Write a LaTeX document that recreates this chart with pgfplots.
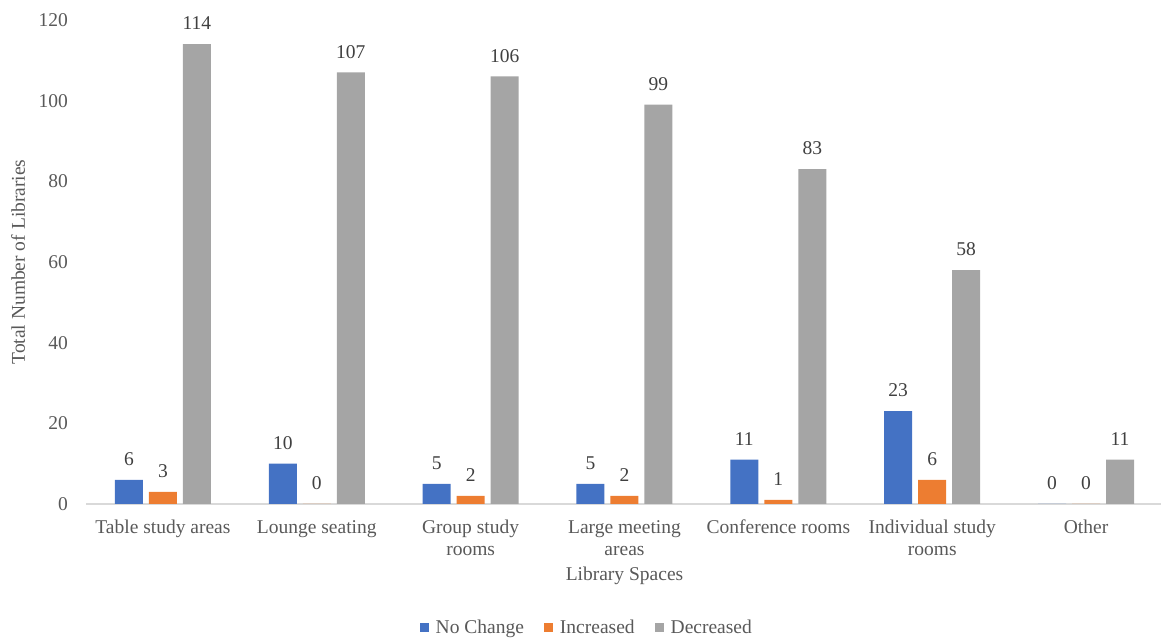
\documentclass[border=0pt]{standalone}
\usepackage{fontspec}
\setmainfont{Liberation Serif}
\usepackage{pgfplots}
\usepackage{pgfplotstable}
\pgfplotsset{compat=1.18}

\definecolor{cBlue}{HTML}{4472C4}
\definecolor{cOrange}{HTML}{ED7D31}
\definecolor{cGray}{HTML}{A5A5A5}
\definecolor{tickText}{HTML}{595959}
\definecolor{valText}{HTML}{404040}
\definecolor{baseLine}{HTML}{D9D9D9}

\newcommand\chartfont{\fontsize{19.5}{22}\selectfont}

% Changes in library spaces, one row per space type
\pgfplotstableread{
idx nochange increased decreased
0   6        3         114
1   10       0         107
2   5        2         106
3   5        2         99
4   11       1         83
5   23       6         58
6   0        0         11
}\spacestable

\begin{document}
\begin{tikzpicture}[x=1pt,y=1pt]
\useasboundingbox (0,0) rectangle (1161,639);
\begin{axis}[
  at={(86pt,135pt)}, anchor=south west,
  scale only axis, width=1077pt, height=484pt,
  ybar=6pt, bar width=28pt,
  xmin=-0.5, xmax=6.5, ymin=0, ymax=120,
  xtick=data,
  xticklabels={Table study areas, Lounge seating, {Group study\\rooms}, {Large meeting\\areas}, Conference rooms, {Individual study\\rooms}, Other},
  ytick={0,20,...,120},
  major tick length=0pt,
  axis x line*=bottom, axis y line*=left,
  x axis line style={draw=baseLine, line width=1.5pt},
  y axis line style={draw=none},
  /pgf/number format/assume math mode=true,
  tick label style={font=\chartfont, text=tickText},
  xticklabel style={align=center, inner sep=0pt, anchor=north, yshift=-16pt},
  yticklabel style={inner sep=0pt, anchor=east, xshift=-18pt},
  xlabel={Library Spaces},
  ylabel={Total Number of Libraries},
  every axis x label/.style={at={(axis description cs:0.5,-0.149)}, anchor=center, font=\chartfont, text=tickText},
  every axis y label/.style={at={(axis description cs:-0.0631,0.5)}, rotate=90, anchor=center, font=\chartfont, text=tickText},
  nodes near coords,
  every node near coord/.append style={font=\chartfont, text=valText, anchor=south, inner sep=0pt, yshift=14pt},
  legend style={at={(axis description cs:0.465,-0.256)}, anchor=center, draw=none, fill=none,
    legend columns=-1, font=\chartfont, text=tickText,
    nodes={inner sep=2pt},
    /tikz/every odd column/.append style={column sep=5pt},
    /tikz/every even column/.append style={column sep=18pt}},
  legend image code/.code={\fill[#1] (0pt,-4.5pt) rectangle (9pt,4.5pt);},
]
\addplot[fill=cBlue, draw=none] table[x=idx, y=nochange] {\spacestable};
\addplot[fill=cOrange, draw=none] table[x=idx, y=increased] {\spacestable};
\addplot[fill=cGray, draw=none] table[x=idx, y=decreased] {\spacestable};
\legend{No Change, Increased, Decreased}
\end{axis}
\end{tikzpicture}
\end{document}
